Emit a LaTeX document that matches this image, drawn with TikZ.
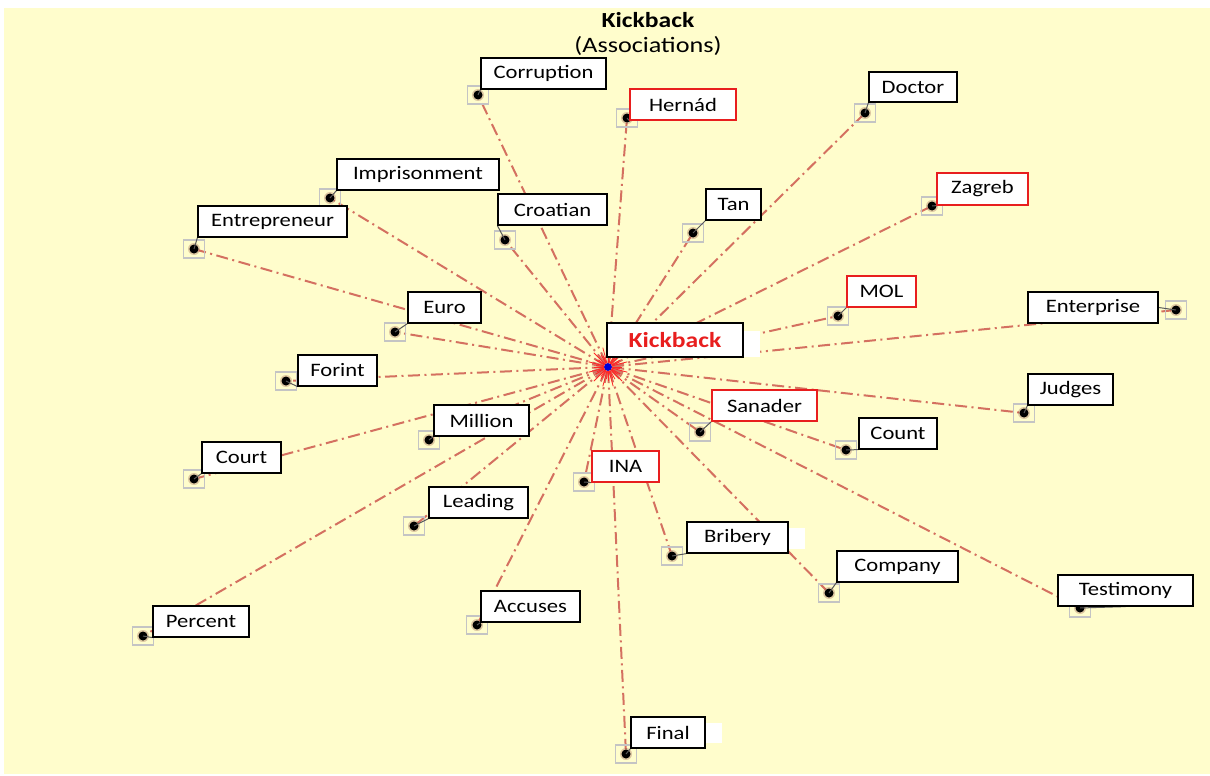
\documentclass[tikz,border=0pt]{standalone}
\usepackage{fontspec}
\setmainfont[FakeStretch=1.19]{Carlito}

\pgfdeclarelayer{bg}
\pgfdeclarelayer{edges}
\pgfdeclarelayer{marks}
\pgfsetlayers{bg,edges,marks,main}

\definecolor{paper}{RGB}{255,253,204}
\definecolor{assoc}{RGB}{212,112,96}
\definecolor{hilite}{RGB}{232,30,30}
\definecolor{marksq}{RGB}{196,196,196}

\tikzset{
  wordbox/.style={draw=black, line width=1.2pt, fill=white, inner sep=0pt,
    font=\fontsize{19}{22}\selectfont},
  keybox/.style={wordbox, draw=hilite},
  patch/.style={fill=white, inner sep=0pt},
  assocline/.style={draw=assoc, line width=2pt,
    dash pattern=on 12pt off 4.5pt on 2pt off 4.5pt},
  marksquare/.style={draw=marksq, line width=1.5pt, minimum width=21pt,
    minimum height=18pt, inner sep=0pt},
  markglow/.style={circle, fill=assoc!70!black, opacity=0.3, minimum size=12pt, inner sep=0pt},
  markdot/.style={circle, fill=black, minimum size=9pt, inner sep=0pt},
  leader/.style={draw=black!65, line width=1pt},
  ray/.style={draw=red!85!white, line width=0.8pt},
}

% #1 key, #2-#5 box left/top/right/bottom, #6 box style, #7 word,
% #8 marker position, #9 box anchor the marker's leader runs to
\newcommand\assocword[9]{%
  \begin{pgfonlayer}{marks}
    \node[marksquare] (s-#1) at (#8) {};
    \node[markglow] (g-#1) at (#8) {};
    \node[markdot] (d-#1) at (#8) {};
  \end{pgfonlayer}
  \node[#6, minimum width={(#4)-(#2)}, minimum height={(#5)-(#3)}]
    (w-#1) at ({((#2)+(#4))/2},{((#3)+(#5))/2}) {#7};
  \begin{pgfonlayer}{edges}
    \draw[assocline] (c) -- (d-#1);
  \end{pgfonlayer}
  \begin{pgfonlayer}{marks}
    \draw[leader] (d-#1.center) -- (w-#1.#9);
  \end{pgfonlayer}
}

\begin{document}
\begin{tikzpicture}[x=1pt,y=-1pt]
  \useasboundingbox (0,0) rectangle (1210,776);
  \begin{pgfonlayer}{bg}
    \fill[paper] (4,8) rectangle (1210,774);
  \end{pgfonlayer}

  % title
  \node[font=\fontsize{21.5}{24}\selectfont\bfseries] (title) at (648,20) {Kickback};
  \node[font=\fontsize{22}{24}\selectfont] (subtitle) at (648,46) {(Associations)};

  % hub with its starburst
  \begin{pgfonlayer}{marks}
    \node[circle, fill=blue!85!black, minimum size=8pt, inner sep=0pt] (c) at (608,367) {};
    \foreach \a in {0,15,...,345}
      \draw[ray] (c.center) ++(\a:4) -- ++(\a:{10+6*mod(\a/15,2)});
    \foreach \a in {7,37,...,337}
      \draw[ray] (c.center) ++(\a:4) -- ++(\a:8);
  \end{pgfonlayer}

  % hub label
  \node[patch, minimum width=18pt, minimum height=26pt] (p-kick) at (751,344) {};
  \node[wordbox, minimum width=136pt, minimum height=34pt,
        font=\fontsize{21.5}{24}\selectfont\bfseries, text=hilite] (w-kick) at (675,340) {Kickback};

  % white tabs behind two labels
  \node[patch, minimum width=17pt, minimum height=21pt] (p-brib) at (796,538.5) {};
  \node[patch, minimum width=17pt, minimum height=20pt] (p-final) at (713,733) {};

  \assocword{corr}{481}{58}{606}{89}{wordbox}{Corruption}{478,95}{south west}
  \assocword{hern}{630}{89}{736}{120}{keybox}{Hernád}{627,118}{south west}
  \assocword{doct}{869}{72}{957}{102}{wordbox}{Doctor}{865,113}{south west}
  \assocword{impr}{337}{159}{499}{190}{wordbox}{Imprisonment}{330,198}{south west}
  \assocword{entr}{198}{206}{347}{237}{wordbox}{Entrepreneur}{194,249}{south west}
  \assocword{croa}{498}{194}{607}{225}{wordbox}{Croatian}{505,240}{south west}
  \assocword{tan}{706}{189}{761}{220}{wordbox}{Tan}{693,233}{south west}
  \assocword{zagr}{937}{173}{1028}{205}{keybox}{Zagreb}{932,206}{south west}
  \assocword{euro}{408}{292}{481}{323}{wordbox}{Euro}{395,332}{south west}
  \assocword{mol}{847}{276}{916}{307}{keybox}{MOL}{838,316}{south west}
  \assocword{ente}{1028}{292}{1158}{323}{wordbox}{Enterprise}{1176,310}{east}
  \assocword{fori}{298}{355}{377}{386}{wordbox}{Forint}{286,381}{south west}
  \assocword{judg}{1028}{374}{1113}{405}{wordbox}{Judges}{1024,413}{south west}
  \assocword{mill}{434}{405}{529}{436}{wordbox}{Million}{429,440}{south west}
  \assocword{sana}{712}{390}{817}{421}{keybox}{Sanader}{700,432}{south west}
  \assocword{coun}{859}{418}{937}{449}{wordbox}{Count}{846,450}{south west}
  \assocword{cour}{202}{442}{281}{473}{wordbox}{Court}{194,479}{south west}
  \assocword{ina}{592}{451}{659}{482}{keybox}{INA}{584,482}{south west}
  \assocword{lead}{429}{487}{528}{518}{wordbox}{Leading}{414,526}{south west}
  \assocword{brib}{687}{522}{788}{553}{wordbox}{Bribery}{672,556}{south west}
  \assocword{comp}{837}{551}{958}{582}{wordbox}{Company}{829,593}{south west}
  \assocword{test}{1058}{575}{1193}{606}{wordbox}{Testimony}{1080,608}{south}
  \assocword{perc}{153}{606}{249}{637}{wordbox}{Percent}{143,636}{south west}
  \assocword{accu}{481}{591}{580}{622}{wordbox}{Accuses}{477,625}{south west}
  \assocword{fina}{631}{717}{705}{748}{wordbox}{Final}{626,754}{south west}
\end{tikzpicture}
\end{document}
